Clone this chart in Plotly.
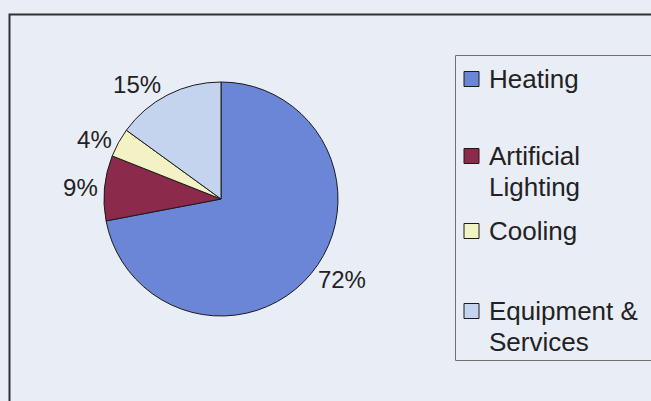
import plotly.graph_objects as go

# ---- data ----
categories = ["Heating", "Artificial Lighting", "Cooling", "Equipment & Services"]
legend_lines = [["Heating"], ["Artificial", "Lighting"], ["Cooling"], ["Equipment &", "Services"]]
values = [72, 9, 4, 15]
colors = ["#6B86D6", "#8C2A4B", "#F3F2C4", "#C4D4EE"]

W, H = 651, 401
BG = "#E9EDF6"
FONT = "Liberation Sans, Arial, sans-serif"

def px_x(x):
    return x / W

def px_y(y):
    return 1 - y / H

fig = go.Figure()

cx, cy, r = 221, 199, 117
fig.add_trace(go.Pie(
    labels=categories,
    values=values,
    sort=False,
    direction="clockwise",
    rotation=0,
    marker=dict(colors=colors, line=dict(color="#1a1a1a", width=1)),
    textinfo="percent",
    textposition="outside",
    textfont=dict(family=FONT, size=24, color="#222222"),
    showlegend=False,
    hoverinfo="label+percent",
    domain=dict(x=[px_x(cx - r), px_x(cx + r)], y=[px_y(cy + r), px_y(cy - r)]),
))

shapes = [
    # outer chart border
    dict(type="rect", xref="paper", yref="paper",
         x0=px_x(9.5), x1=px_x(700), y0=px_y(450), y1=px_y(14.5),
         line=dict(color="#333333", width=2), fillcolor="rgba(0,0,0,0)"),
    # legend box
    dict(type="rect", xref="paper", yref="paper",
         x0=px_x(455.5), x1=px_x(700), y0=px_y(360.5), y1=px_y(55.5),
         line=dict(color="#707070", width=1), fillcolor="rgba(0,0,0,0)"),
]

annotations = []
legend_y = [79, 156, 231, 311]  # px from top: centre of each entry's first line
line_h = 31
sq = 15
for lines, col, y in zip(legend_lines, colors, legend_y):
    shapes.append(dict(type="rect", xref="paper", yref="paper",
                       x0=px_x(464), x1=px_x(464 + sq),
                       y0=px_y(y + sq / 2), y1=px_y(y - sq / 2),
                       line=dict(color="#1a1a1a", width=1), fillcolor=col))
    for i, txt in enumerate(lines):
        annotations.append(dict(xref="paper", yref="paper",
                                x=px_x(487), y=px_y(y + i * line_h),
                                xanchor="left", yanchor="middle",
                                text=txt, showarrow=False, align="left",
                                font=dict(family=FONT, size=26, color="#222222")))

fig.update_layout(
    width=W, height=H,
    margin=dict(l=0, r=0, t=0, b=0),
    paper_bgcolor=BG,
    plot_bgcolor=BG,
    shapes=shapes,
    annotations=annotations,
)

fig.write_html("out.html")
